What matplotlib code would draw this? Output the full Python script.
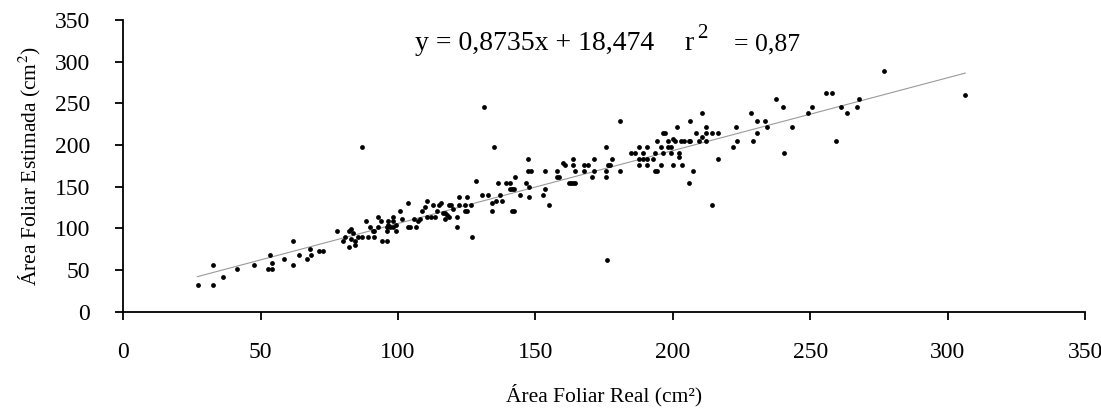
# Área foliar estimada vs real - dispersão com reta de regressão
import matplotlib.pyplot as plt
import numpy as np

plt.rcParams['font.family'] = ['Liberation Serif', 'DejaVu Serif']
plt.rcParams['mathtext.fontset'] = 'stix'

# valores (cm²)
x_real = [
    27.0, 32.7, 32.7, 36.3, 41.2, 47.7, 52.7, 54.2, 53.4, 54.2, 58.4, 61.9, 61.9, 64.1, 66.9,
    67.8, 68.4, 71.2, 72.6, 77.7, 79.9, 80.5, 82.0, 82.0, 82.7, 83.5, 82.7, 84.2, 84.2, 85.3,
    87.0, 87.0, 88.5, 89.2, 89.9, 90.7, 91.4, 91.4, 92.8, 92.8, 93.6, 94.3, 95.8, 95.8, 95.8,
    96.5, 96.5, 97.2, 98.0, 98.0, 98.0, 99.4, 99.4, 100.6, 101.4, 103.5, 103.5, 104.3, 105.7,
    106.5, 107.2, 107.9, 108.6, 109.9, 110.6, 110.6, 112.0, 113.5, 112.8, 114.2, 115.0, 115.7,
    116.4, 117.2, 117.2, 117.9, 118.6, 119.3, 118.6, 120.1, 121.3, 121.3, 122.0, 122.0, 124.2,
    124.2, 125.0, 125.0, 126.4, 126.9, 128.4, 130.5, 132.7, 131.3, 134.2, 134.2, 134.9, 135.7,
    136.4, 137.1, 137.8, 139.3, 140.8, 140.8, 141.5, 142.2, 141.5, 142.2, 142.7, 144.2, 146.4,
    147.1, 147.1, 148.5, 147.8, 147.8, 152.7, 153.4, 153.4, 154.9,
    157.8, 157.8, 158.5, 160.0, 160.7, 162.2, 162.9, 163.6, 164.4, 163.6, 163.6, 164.4, 167.8,
    169.2, 167.8, 170.7, 171.4, 171.4, 175.5, 175.5, 175.5, 176.3, 177.0, 177.7, 180.7, 180.7,
    184.8, 186.3, 187.7, 187.7, 189.2, 190.6, 187.7, 189.2, 190.6, 190.6, 192.8, 193.6, 193.6,
    194.3, 194.3, 195.8, 195.8, 196.5, 197.2, 196.5, 198.4, 198.4, 199.2, 199.2, 199.9, 200.6,
    199.9, 201.4, 202.1, 202.1, 202.8, 204.2, 205.7, 206.4, 203.5, 205.7, 206.4, 207.2, 208.6,
    209.4, 210.6, 210.6, 212.0, 212.0, 212.0, 214.2, 214.2, 216.4, 216.4, 222.0, 222.8, 223.5,
    228.6, 229.3, 230.8, 230.8, 233.5, 234.2, 176.0,
    237.7, 239.9, 240.5, 243.4, 249.2, 250.6, 255.6, 257.8, 259.3, 261.3, 263.5, 267.0, 267.8,
    277.0, 306.4,
]
y_est = [
    31.6, 55.6, 31.6, 41.2, 50.8, 55.6, 50.8, 50.8, 67.6, 58.0, 62.8, 84.4, 55.6, 67.6, 62.8,
    74.8, 67.6, 72.4, 72.4, 96.4, 84.4, 89.2, 77.2, 96.4, 98.8, 94.0, 86.8, 84.4, 79.6, 89.2,
    89.2, 197.5, 108.8, 89.6, 101.6, 96.8, 96.8, 89.6, 113.6, 101.6, 108.8, 84.8, 84.8, 101.6, 96.8,
    108.8, 104.0, 101.6, 113.6, 108.8, 101.6, 104.0, 96.8, 120.8, 111.2, 130.3, 101.6, 101.6, 111.2,
    101.6, 108.8, 111.2, 120.8, 125.5, 132.7, 113.6, 113.6, 113.6, 127.9, 120.8, 127.9, 130.3,
    118.4, 118.4, 111.2, 116.0, 127.9, 127.9, 113.6, 123.1, 113.6, 101.6, 137.5, 127.9, 127.9,
    120.8, 120.8, 137.5, 127.9, 89.6, 157.2, 139.9, 139.9, 245.4, 130.3, 120.8, 197.5, 132.7,
    154.8, 139.9, 132.7, 154.8, 154.8, 147.1, 147.1, 147.1, 120.8, 120.8, 161.5, 139.9, 154.8,
    183.5, 168.7, 168.7, 149.5, 137.5, 139.9, 168.7, 147.1, 127.9,
    168.7, 161.5, 161.5, 178.3, 175.9, 154.8, 154.8, 154.8, 154.8, 183.5, 175.9, 168.7, 175.9,
    175.9, 168.7, 161.5, 183.5, 168.7, 197.5, 168.7, 161.5, 175.9, 175.9, 183.5, 228.7, 168.7,
    190.3, 190.3, 197.5, 183.5, 183.5, 183.5, 175.9, 190.3, 197.5, 175.9, 183.5, 190.3, 168.7,
    168.7, 204.7, 197.5, 175.9, 214.3, 214.3, 190.3, 204.7, 197.5, 197.5, 190.3, 207.1, 204.7,
    175.9, 221.5, 190.3, 185.5, 204.7, 204.7, 204.7, 204.7, 175.9, 154.8, 228.7, 168.7, 214.3,
    204.7, 238.3, 209.5, 221.5, 214.3, 204.7, 214.3, 127.9, 214.3, 183.5, 197.5, 221.5, 204.7,
    238.3, 204.7, 228.7, 214.3, 228.7, 221.5, 62.0,
    254.7, 245.1, 189.9, 221.1, 237.9, 245.1, 261.9, 261.9, 204.3, 245.1, 237.9, 245.1, 254.7,
    288.2, 259.5,
]

slope = 0.8735
intercept = 18.474
r2_text = "0,87"

x_real = np.array(x_real)
y_est = np.array(y_est)

fig = plt.figure(figsize=(11.01, 4.11), dpi=100)
ax = fig.add_axes([0.112, 0.2416, 0.8735, 0.7102])

ax.scatter(x_real, y_est, s=12, marker='o', color='black', linewidths=0, zorder=3)

xl = np.array([x_real.min(), x_real.max()])
ax.plot(xl, slope * xl + intercept, color='#9a9a9a', linewidth=0.8, zorder=2)

ax.set_xlim(0, 350)
ax.set_ylim(0, 350)
ax.set_xticks(np.arange(0, 351, 50))
ax.set_yticks(np.arange(0, 351, 50))

for side in ['top', 'right']:
    ax.spines[side].set_visible(False)
for side in ['left', 'bottom']:
    ax.spines[side].set_linewidth(1.3)
ax.tick_params(direction='out', length=6, width=1.3, labelsize=17)
ax.tick_params(axis='x', pad=16)
ax.tick_params(axis='y', pad=18)

ax.set_xlabel('Área Foliar Real (cm²)', fontsize=15.5, labelpad=15)
ax.set_ylabel('Área Foliar Estimada (cm$^2$)', fontsize=15.5, labelpad=8)

# equação da reta
fig.text(415 / 1101, 1 - 50 / 411, 'y = 0,8735x + 18,474', fontsize=20,
         ha='left', va='baseline')
fig.text(684 / 1101, 1 - 50 / 411, 'r', fontsize=20, ha='left', va='baseline')
fig.text(697 / 1101, 1 - 38 / 411, '2', fontsize=15, ha='left', va='baseline')
fig.text(734 / 1101, 1 - 50 / 411, '= ' + r2_text, fontsize=18.5, ha='left', va='baseline')

plt.savefig('out.png', dpi=100)
